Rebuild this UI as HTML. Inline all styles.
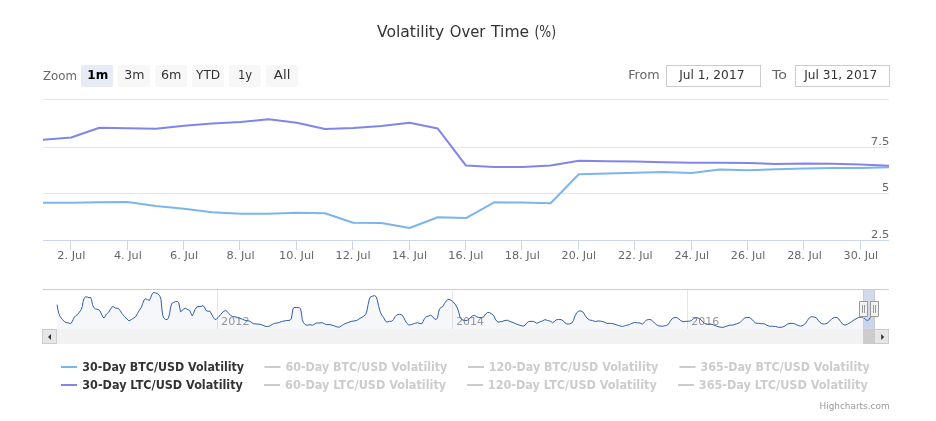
<!DOCTYPE html>
<html><head><meta charset="utf-8"><title>Volatility Over Time (%)</title>
<style>
html,body{margin:0;padding:0;background:#fff;}
body{width:936px;height:421px;overflow:hidden;position:relative;font-family:"DejaVu Sans","Liberation Sans",sans-serif;}
svg{position:absolute;left:0;top:0;display:block;}
svg text{font-family:"DejaVu Sans","Liberation Sans",sans-serif;white-space:pre;}
</style></head><body>
<svg width="936" height="421" viewBox="0 0 936 421">
<rect x="0" y="0" width="936" height="421" fill="#ffffff"/>

<path d="M43 99.5 L889 99.5" stroke="#e6e6e6" stroke-width="1" fill="none"/>
<path d="M43 147.5 L889 147.5" stroke="#e6e6e6" stroke-width="1" fill="none"/>
<path d="M43 193.5 L889 193.5" stroke="#e6e6e6" stroke-width="1" fill="none"/>
<path d="M43 240.5 L889 240.5" stroke="#ccd6eb" stroke-width="1" fill="none"/>
<path d="M70.5 240.5 L70.5 250" stroke="#ccd6eb" stroke-width="1" fill="none"/>
<path d="M127.5 240.5 L127.5 250" stroke="#ccd6eb" stroke-width="1" fill="none"/>
<path d="M183.5 240.5 L183.5 250" stroke="#ccd6eb" stroke-width="1" fill="none"/>
<path d="M239.5 240.5 L239.5 250" stroke="#ccd6eb" stroke-width="1" fill="none"/>
<path d="M296.5 240.5 L296.5 250" stroke="#ccd6eb" stroke-width="1" fill="none"/>
<path d="M352.5 240.5 L352.5 250" stroke="#ccd6eb" stroke-width="1" fill="none"/>
<path d="M409.5 240.5 L409.5 250" stroke="#ccd6eb" stroke-width="1" fill="none"/>
<path d="M465.5 240.5 L465.5 250" stroke="#ccd6eb" stroke-width="1" fill="none"/>
<path d="M521.5 240.5 L521.5 250" stroke="#ccd6eb" stroke-width="1" fill="none"/>
<path d="M578.5 240.5 L578.5 250" stroke="#ccd6eb" stroke-width="1" fill="none"/>
<path d="M634.5 240.5 L634.5 250" stroke="#ccd6eb" stroke-width="1" fill="none"/>
<path d="M691.5 240.5 L691.5 250" stroke="#ccd6eb" stroke-width="1" fill="none"/>
<path d="M747.5 240.5 L747.5 250" stroke="#ccd6eb" stroke-width="1" fill="none"/>
<path d="M803.5 240.5 L803.5 250" stroke="#ccd6eb" stroke-width="1" fill="none"/>
<path d="M860.5 240.5 L860.5 250" stroke="#ccd6eb" stroke-width="1" fill="none"/>
<clipPath id="cp"><rect x="43" y="90" width="846" height="160"/></clipPath><g clip-path="url(#cp)">
<path d="M43.00 202.80 L71.20 202.80 L99.40 202.30 L127.60 202.05 L155.80 206.05 L184.00 208.80 L212.20 212.30 L240.40 213.80 L268.60 213.80 L296.80 212.80 L325.00 213.30 L353.20 222.80 L381.40 223.05 L409.60 228.05 L437.80 217.30 L466.00 218.05 L494.20 202.30 L522.40 202.55 L550.60 203.30 L578.80 174.30 L607.00 173.55 L635.20 172.80 L663.40 172.05 L691.60 173.05 L719.80 169.55 L748.00 170.30 L776.20 169.30 L804.40 168.55 L832.60 168.05 L860.80 168.05 L889.00 167.30" stroke="#7cb5ec" stroke-width="2" fill="none" stroke-linejoin="round" stroke-linecap="round"/>
<path d="M43.00 139.80 L71.20 137.50 L99.40 127.70 L127.60 128.30 L155.80 128.80 L184.00 125.80 L212.20 123.55 L240.40 122.05 L268.60 119.30 L296.80 122.80 L325.00 129.05 L353.20 128.05 L381.40 126.05 L409.60 122.80 L437.80 128.60 L466.00 165.55 L494.20 167.05 L522.40 167.05 L550.60 165.55 L578.80 160.80 L607.00 161.30 L635.20 161.55 L663.40 162.30 L691.60 162.80 L719.80 162.80 L748.00 163.05 L776.20 164.05 L804.40 163.55 L832.60 163.80 L860.80 164.55 L889.00 165.80" stroke="#8085e9" stroke-width="2" fill="none" stroke-linejoin="round" stroke-linecap="round"/>
</g>
<rect x="81" y="65" width="32" height="22" rx="2" ry="2" fill="#e6ebf5"/>
<rect x="118" y="65" width="32" height="22" rx="2" ry="2" fill="#f7f7f7"/>
<rect x="155" y="65" width="32" height="22" rx="2" ry="2" fill="#f7f7f7"/>
<rect x="192" y="65" width="32" height="22" rx="2" ry="2" fill="#f7f7f7"/>
<rect x="229" y="65" width="32" height="22" rx="2" ry="2" fill="#f7f7f7"/>
<rect x="266" y="65" width="32" height="22" rx="2" ry="2" fill="#f7f7f7"/>
<rect x="666.5" y="65.5" width="94" height="21" fill="none" stroke="#cccccc" stroke-width="1"/>
<rect x="795.5" y="65.5" width="94" height="21" fill="none" stroke="#cccccc" stroke-width="1"/>
<path d="M217.5 289.5 L217.5 329" stroke="#e6e6e6" stroke-width="1" fill="none"/>
<path d="M452.5 289.5 L452.5 329" stroke="#e6e6e6" stroke-width="1" fill="none"/>
<path d="M687.5 289.5 L687.5 329" stroke="#e6e6e6" stroke-width="1" fill="none"/>
<text x="221.14" y="324.5" font-size="11" fill="#999999" textLength="28.37" lengthAdjust="spacingAndGlyphs">2012</text>
<text x="456.15" y="324.5" font-size="11" fill="#999999" textLength="27.84" lengthAdjust="spacingAndGlyphs">2014</text>
<text x="691.15" y="324.5" font-size="11" fill="#999999" textLength="28.11" lengthAdjust="spacingAndGlyphs">2016</text>
<path d="M57.12 304.62 L57.75 309.0 L58.75 313.38 L60.25 316.75 L62.5 319.62 L65.0 322.12 L66.88 322.75 L68.75 323.0 L70.62 323.75 L71.88 322.12 L73.12 319.62 L74.38 317.12 L75.62 315.88 L77.5 314.62 L79.38 312.12 L81.25 309.62 L82.25 306.5 L83.12 301.5 L84.0 298.38 L85.62 296.88 L87.5 297.12 L89.0 297.75 L90.62 297.38 L91.5 299.62 L92.5 304.62 L93.75 307.5 L95.62 309.0 L98.12 309.38 L100.0 310.88 L101.5 314.0 L102.75 316.75 L104.0 318.0 L105.25 316.25 L106.5 314.0 L108.75 312.12 L110.62 309.0 L112.5 306.5 L113.75 306.88 L115.25 308.12 L118.12 308.38 L120.0 310.25 L121.88 313.38 L124.38 316.25 L126.88 319.0 L129.0 320.88 L131.25 319.62 L133.75 318.0 L135.62 316.75 L137.5 313.38 L139.38 310.25 L141.25 307.5 L142.75 303.38 L144.0 300.0 L145.62 298.75 L147.5 299.62 L149.38 300.5 L150.62 297.75 L152.25 293.75 L153.75 292.38 L155.62 293.0 L157.75 293.75 L159.38 295.25 L160.0 296.5 L161.0 299.62 L161.88 309.0 L162.75 315.25 L163.75 318.0 L165.62 319.62 L167.5 319.38 L168.75 317.12 L169.75 312.75 L170.62 307.12 L171.88 303.38 L173.75 302.38 L175.62 301.5 L177.5 301.5 L178.75 302.75 L179.62 307.12 L180.62 311.75 L181.88 310.88 L183.75 308.75 L185.62 308.38 L187.75 309.62 L189.75 310.5 L191.0 313.38 L192.25 315.88 L193.5 313.38 L195.0 309.62 L196.88 306.88 L199.0 306.5 L201.25 306.5 L203.12 305.5 L204.38 307.12 L206.0 310.5 L208.12 311.25 L210.0 311.25 L211.5 314.0 L213.12 317.12 L215.0 319.62 L216.5 319.0 L218.12 317.5 L220.62 314.62 L223.12 311.75 L225.25 310.5 L226.88 311.25 L228.75 313.38 L230.62 315.5 L232.5 316.5 L235.0 316.75 L237.5 317.5 L240.0 318.38 L242.5 319.25 L245.0 320.25 L247.5 320.62 L250.0 321.25 L251.88 322.75 L253.75 323.75 L256.88 324.0 L260.0 324.25 L262.5 325.0 L265.0 326.25 L267.5 326.5 L270.0 325.88 L272.5 324.25 L274.38 323.38 L277.0 323.12 L279.38 322.38 L282.5 321.25 L286.25 320.62 L290.0 320.25 L291.25 319.0 L292.12 314.0 L292.88 309.0 L294.0 307.5 L296.25 307.5 L299.38 307.75 L300.62 308.75 L301.5 314.0 L302.25 319.62 L303.5 322.75 L305.0 324.38 L306.88 325.25 L310.0 324.75 L312.5 325.25 L314.38 324.25 L316.0 323.0 L318.75 323.0 L322.5 322.75 L324.38 323.75 L326.25 324.62 L330.0 324.62 L333.75 325.62 L336.88 326.88 L339.38 327.12 L341.25 325.88 L343.75 324.25 L347.5 322.75 L351.25 321.25 L355.0 320.88 L357.5 320.0 L360.0 318.38 L363.12 316.5 L365.62 314.62 L366.88 310.88 L368.12 304.62 L369.38 299.0 L370.62 296.75 L372.5 296.12 L374.75 295.62 L376.25 296.88 L377.5 300.88 L378.75 306.5 L380.25 312.12 L381.88 315.25 L383.75 317.75 L385.25 320.88 L387.0 322.12 L389.38 321.25 L391.88 321.25 L393.5 319.62 L395.0 316.75 L396.88 314.88 L399.38 314.25 L401.88 314.88 L403.5 317.12 L405.0 320.25 L406.88 323.38 L408.75 325.0 L411.25 324.62 L414.38 323.38 L417.5 322.75 L420.0 323.5 L421.88 323.75 L423.12 321.5 L424.38 318.75 L426.0 316.75 L428.12 316.25 L430.62 315.0 L432.5 316.5 L434.38 318.75 L436.0 319.62 L437.5 317.75 L438.5 312.75 L439.38 309.0 L441.0 307.5 L442.5 306.75 L444.38 303.75 L446.25 300.88 L448.12 299.38 L450.0 299.62 L452.5 301.25 L455.0 304.0 L457.25 307.75 L458.75 312.12 L460.0 317.12 L461.88 319.62 L464.38 320.62 L467.5 320.25 L470.0 318.0 L472.5 315.88 L474.38 315.25 L476.25 316.5 L478.75 317.5 L481.25 317.75 L483.75 316.75 L485.62 314.0 L487.5 312.5 L489.38 312.5 L491.88 314.0 L494.0 315.88 L495.25 319.0 L497.0 321.5 L498.75 322.12 L501.88 321.5 L505.0 320.5 L507.5 320.25 L510.0 321.5 L513.12 322.5 L516.25 324.0 L520.0 325.25 L523.12 326.12 L525.0 325.25 L526.88 322.75 L528.75 321.5 L531.88 321.25 L534.38 321.75 L536.88 323.38 L539.38 322.12 L542.5 320.88 L545.0 319.62 L547.5 320.5 L550.62 321.25 L552.5 322.75 L554.38 321.5 L556.25 319.88 L558.5 319.38 L561.25 319.62 L563.12 320.88 L565.0 322.75 L566.88 324.0 L569.38 324.0 L571.88 323.0 L573.5 320.25 L575.0 315.88 L576.88 312.5 L578.75 311.12 L581.0 310.88 L583.12 312.12 L585.0 315.25 L586.88 318.0 L589.38 319.88 L592.5 320.62 L595.62 321.5 L598.12 320.88 L601.25 321.25 L604.38 322.12 L607.0 323.38 L611.25 323.38 L615.0 324.25 L618.75 325.62 L622.5 326.5 L625.62 325.5 L629.38 324.62 L631.88 323.38 L634.38 322.5 L637.5 322.75 L640.0 323.0 L642.5 324.25 L644.38 322.12 L646.25 320.25 L648.75 319.38 L651.25 319.88 L653.75 322.12 L656.25 324.62 L658.75 325.88 L662.5 326.25 L665.62 325.62 L668.12 324.62 L670.0 321.5 L671.88 319.0 L673.75 317.75 L676.25 317.38 L678.12 318.38 L680.62 320.5 L683.12 321.75 L686.25 321.25 L689.38 321.25 L691.88 320.25 L693.75 318.38 L696.25 317.5 L699.38 318.38 L701.88 320.88 L704.38 323.38 L707.5 324.25 L710.62 324.0 L713.75 325.0 L717.0 326.25 L720.0 327.12 L723.12 327.38 L726.25 326.25 L729.38 325.25 L733.12 325.0 L736.25 324.0 L740.0 322.5 L742.25 320.25 L744.38 318.12 L746.88 317.5 L749.38 317.5 L751.88 319.25 L753.75 321.5 L755.62 323.12 L758.75 323.38 L761.88 323.75 L764.38 323.75 L766.88 325.25 L769.38 326.25 L772.5 326.25 L775.62 326.5 L778.75 327.38 L782.5 327.12 L785.0 325.88 L787.5 324.0 L790.0 323.38 L793.12 323.38 L795.62 324.25 L798.12 325.5 L800.62 326.12 L803.12 325.25 L805.62 323.38 L807.5 320.25 L809.38 317.75 L811.25 316.75 L813.75 316.88 L816.25 317.75 L818.12 320.25 L820.0 322.5 L821.88 323.75 L824.38 324.0 L827.0 323.38 L829.38 321.25 L831.88 318.75 L834.38 317.5 L836.88 317.5 L838.75 319.0 L840.62 321.5 L842.5 324.0 L845.0 325.25 L847.5 324.25 L851.25 321.88 L855.0 319.38 L858.75 317.38 L861.88 317.12 L863.75 317.75 L865.62 319.62 L867.5 320.62 L868.75 320.0 L870.0 317.75 L871.0 316.75 L875.0 315.25 L875.0 329 L57.12 329 Z" fill="#335cad" fill-opacity="0.05" stroke="none"/>
<path d="M57.12 304.62 L57.75 309.0 L58.75 313.38 L60.25 316.75 L62.5 319.62 L65.0 322.12 L66.88 322.75 L68.75 323.0 L70.62 323.75 L71.88 322.12 L73.12 319.62 L74.38 317.12 L75.62 315.88 L77.5 314.62 L79.38 312.12 L81.25 309.62 L82.25 306.5 L83.12 301.5 L84.0 298.38 L85.62 296.88 L87.5 297.12 L89.0 297.75 L90.62 297.38 L91.5 299.62 L92.5 304.62 L93.75 307.5 L95.62 309.0 L98.12 309.38 L100.0 310.88 L101.5 314.0 L102.75 316.75 L104.0 318.0 L105.25 316.25 L106.5 314.0 L108.75 312.12 L110.62 309.0 L112.5 306.5 L113.75 306.88 L115.25 308.12 L118.12 308.38 L120.0 310.25 L121.88 313.38 L124.38 316.25 L126.88 319.0 L129.0 320.88 L131.25 319.62 L133.75 318.0 L135.62 316.75 L137.5 313.38 L139.38 310.25 L141.25 307.5 L142.75 303.38 L144.0 300.0 L145.62 298.75 L147.5 299.62 L149.38 300.5 L150.62 297.75 L152.25 293.75 L153.75 292.38 L155.62 293.0 L157.75 293.75 L159.38 295.25 L160.0 296.5 L161.0 299.62 L161.88 309.0 L162.75 315.25 L163.75 318.0 L165.62 319.62 L167.5 319.38 L168.75 317.12 L169.75 312.75 L170.62 307.12 L171.88 303.38 L173.75 302.38 L175.62 301.5 L177.5 301.5 L178.75 302.75 L179.62 307.12 L180.62 311.75 L181.88 310.88 L183.75 308.75 L185.62 308.38 L187.75 309.62 L189.75 310.5 L191.0 313.38 L192.25 315.88 L193.5 313.38 L195.0 309.62 L196.88 306.88 L199.0 306.5 L201.25 306.5 L203.12 305.5 L204.38 307.12 L206.0 310.5 L208.12 311.25 L210.0 311.25 L211.5 314.0 L213.12 317.12 L215.0 319.62 L216.5 319.0 L218.12 317.5 L220.62 314.62 L223.12 311.75 L225.25 310.5 L226.88 311.25 L228.75 313.38 L230.62 315.5 L232.5 316.5 L235.0 316.75 L237.5 317.5 L240.0 318.38 L242.5 319.25 L245.0 320.25 L247.5 320.62 L250.0 321.25 L251.88 322.75 L253.75 323.75 L256.88 324.0 L260.0 324.25 L262.5 325.0 L265.0 326.25 L267.5 326.5 L270.0 325.88 L272.5 324.25 L274.38 323.38 L277.0 323.12 L279.38 322.38 L282.5 321.25 L286.25 320.62 L290.0 320.25 L291.25 319.0 L292.12 314.0 L292.88 309.0 L294.0 307.5 L296.25 307.5 L299.38 307.75 L300.62 308.75 L301.5 314.0 L302.25 319.62 L303.5 322.75 L305.0 324.38 L306.88 325.25 L310.0 324.75 L312.5 325.25 L314.38 324.25 L316.0 323.0 L318.75 323.0 L322.5 322.75 L324.38 323.75 L326.25 324.62 L330.0 324.62 L333.75 325.62 L336.88 326.88 L339.38 327.12 L341.25 325.88 L343.75 324.25 L347.5 322.75 L351.25 321.25 L355.0 320.88 L357.5 320.0 L360.0 318.38 L363.12 316.5 L365.62 314.62 L366.88 310.88 L368.12 304.62 L369.38 299.0 L370.62 296.75 L372.5 296.12 L374.75 295.62 L376.25 296.88 L377.5 300.88 L378.75 306.5 L380.25 312.12 L381.88 315.25 L383.75 317.75 L385.25 320.88 L387.0 322.12 L389.38 321.25 L391.88 321.25 L393.5 319.62 L395.0 316.75 L396.88 314.88 L399.38 314.25 L401.88 314.88 L403.5 317.12 L405.0 320.25 L406.88 323.38 L408.75 325.0 L411.25 324.62 L414.38 323.38 L417.5 322.75 L420.0 323.5 L421.88 323.75 L423.12 321.5 L424.38 318.75 L426.0 316.75 L428.12 316.25 L430.62 315.0 L432.5 316.5 L434.38 318.75 L436.0 319.62 L437.5 317.75 L438.5 312.75 L439.38 309.0 L441.0 307.5 L442.5 306.75 L444.38 303.75 L446.25 300.88 L448.12 299.38 L450.0 299.62 L452.5 301.25 L455.0 304.0 L457.25 307.75 L458.75 312.12 L460.0 317.12 L461.88 319.62 L464.38 320.62 L467.5 320.25 L470.0 318.0 L472.5 315.88 L474.38 315.25 L476.25 316.5 L478.75 317.5 L481.25 317.75 L483.75 316.75 L485.62 314.0 L487.5 312.5 L489.38 312.5 L491.88 314.0 L494.0 315.88 L495.25 319.0 L497.0 321.5 L498.75 322.12 L501.88 321.5 L505.0 320.5 L507.5 320.25 L510.0 321.5 L513.12 322.5 L516.25 324.0 L520.0 325.25 L523.12 326.12 L525.0 325.25 L526.88 322.75 L528.75 321.5 L531.88 321.25 L534.38 321.75 L536.88 323.38 L539.38 322.12 L542.5 320.88 L545.0 319.62 L547.5 320.5 L550.62 321.25 L552.5 322.75 L554.38 321.5 L556.25 319.88 L558.5 319.38 L561.25 319.62 L563.12 320.88 L565.0 322.75 L566.88 324.0 L569.38 324.0 L571.88 323.0 L573.5 320.25 L575.0 315.88 L576.88 312.5 L578.75 311.12 L581.0 310.88 L583.12 312.12 L585.0 315.25 L586.88 318.0 L589.38 319.88 L592.5 320.62 L595.62 321.5 L598.12 320.88 L601.25 321.25 L604.38 322.12 L607.0 323.38 L611.25 323.38 L615.0 324.25 L618.75 325.62 L622.5 326.5 L625.62 325.5 L629.38 324.62 L631.88 323.38 L634.38 322.5 L637.5 322.75 L640.0 323.0 L642.5 324.25 L644.38 322.12 L646.25 320.25 L648.75 319.38 L651.25 319.88 L653.75 322.12 L656.25 324.62 L658.75 325.88 L662.5 326.25 L665.62 325.62 L668.12 324.62 L670.0 321.5 L671.88 319.0 L673.75 317.75 L676.25 317.38 L678.12 318.38 L680.62 320.5 L683.12 321.75 L686.25 321.25 L689.38 321.25 L691.88 320.25 L693.75 318.38 L696.25 317.5 L699.38 318.38 L701.88 320.88 L704.38 323.38 L707.5 324.25 L710.62 324.0 L713.75 325.0 L717.0 326.25 L720.0 327.12 L723.12 327.38 L726.25 326.25 L729.38 325.25 L733.12 325.0 L736.25 324.0 L740.0 322.5 L742.25 320.25 L744.38 318.12 L746.88 317.5 L749.38 317.5 L751.88 319.25 L753.75 321.5 L755.62 323.12 L758.75 323.38 L761.88 323.75 L764.38 323.75 L766.88 325.25 L769.38 326.25 L772.5 326.25 L775.62 326.5 L778.75 327.38 L782.5 327.12 L785.0 325.88 L787.5 324.0 L790.0 323.38 L793.12 323.38 L795.62 324.25 L798.12 325.5 L800.62 326.12 L803.12 325.25 L805.62 323.38 L807.5 320.25 L809.38 317.75 L811.25 316.75 L813.75 316.88 L816.25 317.75 L818.12 320.25 L820.0 322.5 L821.88 323.75 L824.38 324.0 L827.0 323.38 L829.38 321.25 L831.88 318.75 L834.38 317.5 L836.88 317.5 L838.75 319.0 L840.62 321.5 L842.5 324.0 L845.0 325.25 L847.5 324.25 L851.25 321.88 L855.0 319.38 L858.75 317.38 L861.88 317.12 L863.75 317.75 L865.62 319.62 L867.5 320.62 L868.75 320.0 L870.0 317.75 L871.0 316.75 L875.0 315.25" fill="none" stroke="#335cad" stroke-width="1" stroke-linejoin="round"/>
<rect x="864" y="290" width="10.5" height="39" fill="#6685c2" fill-opacity="0.3"/>
<rect x="42.5" y="329.5" width="846" height="14" fill="#f2f2f2" stroke="#f2f2f2" stroke-width="1"/>
<rect x="863.5" y="329.5" width="11" height="14" fill="#cccccc" stroke="#cccccc" stroke-width="1"/>
<rect x="42.5" y="329.5" width="14" height="14" fill="#e6e6e6" stroke="#cccccc" stroke-width="1"/>
<path d="M51 334 L51 340 L48 337 Z" fill="#333333"/>
<rect x="874.5" y="329.5" width="14" height="14" fill="#e6e6e6" stroke="#cccccc" stroke-width="1"/>
<path d="M881.2 334 L881.2 340 L884.2 337 Z" fill="#333333"/>
<path d="M43 289.5 L889 289.5 M863.5 289.5 L863.5 329.5 M874.5 329.5 L874.5 289.5" fill="none" stroke="#cccccc" stroke-width="1"/>
<path d="M859.5 301.5 L867.5 301.5 L867.5 316.5 L859.5 316.5 Z" fill="#f2f2f2" stroke="#999999" stroke-width="1"/>
<path d="M862.5 305 L862.5 313 M864.5 305 L864.5 313" fill="none" stroke="#999999" stroke-width="1"/>
<path d="M870.5 301.5 L878.5 301.5 L878.5 316.5 L870.5 316.5 Z" fill="#f2f2f2" stroke="#999999" stroke-width="1"/>
<path d="M873.5 305 L873.5 313 M875.5 305 L875.5 313" fill="none" stroke="#999999" stroke-width="1"/>
<path d="M61 367 L77 367" stroke="#7cb5ec" stroke-width="2" fill="none"/>
<path d="M264.5 367 L280.5 367" stroke="#cccccc" stroke-width="2" fill="none"/>
<path d="M468 367 L484 367" stroke="#cccccc" stroke-width="2" fill="none"/>
<path d="M679.5 367 L695.5 367" stroke="#cccccc" stroke-width="2" fill="none"/>
<path d="M61 385 L77 385" stroke="#8085e9" stroke-width="2" fill="none"/>
<path d="M264 385 L280 385" stroke="#cccccc" stroke-width="2" fill="none"/>
<path d="M467 385 L483 385" stroke="#cccccc" stroke-width="2" fill="none"/>
<path d="M678 385 L694 385" stroke="#cccccc" stroke-width="2" fill="none"/>
<text y="36.5" font-size="16" fill="#333333"><tspan x="376.96" textLength="67.22" lengthAdjust="spacingAndGlyphs">Volatility</tspan> <tspan x="449.77" textLength="35.71" lengthAdjust="spacingAndGlyphs">Over</tspan> <tspan x="491.10" textLength="38.08" lengthAdjust="spacingAndGlyphs">Time</tspan> <tspan x="534.42" textLength="21.70" lengthAdjust="spacingAndGlyphs">(%)</tspan></text>
<text x="42.91" y="80" font-size="12" fill="#666666" textLength="33.96" lengthAdjust="spacingAndGlyphs">Zoom</text>
<text x="87.35" y="79" font-size="12" font-weight="bold" fill="#000000" textLength="20.92" lengthAdjust="spacingAndGlyphs">1m</text>
<text x="124.21" y="79" font-size="12" fill="#333333" textLength="20.17" lengthAdjust="spacingAndGlyphs">3m</text>
<text x="160.96" y="79" font-size="12" fill="#333333" textLength="20.43" lengthAdjust="spacingAndGlyphs">6m</text>
<text x="196.00" y="79" font-size="12" fill="#333333" textLength="24.16" lengthAdjust="spacingAndGlyphs">YTD</text>
<text x="237.90" y="79" font-size="12" fill="#333333" textLength="14.18" lengthAdjust="spacingAndGlyphs">1y</text>
<text x="273.82" y="79" font-size="12" fill="#333333" textLength="16.55" lengthAdjust="spacingAndGlyphs">All</text>
<text x="628.17" y="79" font-size="12" fill="#666666" textLength="31.57" lengthAdjust="spacingAndGlyphs">From</text>
<text x="679.21" y="79" font-size="12" fill="#333333" textLength="65.22" lengthAdjust="spacingAndGlyphs">Jul 1, 2017</text>
<text x="772.00" y="79" font-size="12" fill="#666666" textLength="15.06" lengthAdjust="spacingAndGlyphs">To</text>
<text x="804.21" y="79" font-size="12" fill="#333333" textLength="72.99" lengthAdjust="spacingAndGlyphs">Jul 31, 2017</text>
<text x="57.28" y="259" font-size="11" fill="#666666" textLength="28.12" lengthAdjust="spacingAndGlyphs">2. Jul</text>
<text x="113.94" y="259" font-size="11" fill="#666666" textLength="27.85" lengthAdjust="spacingAndGlyphs">4. Jul</text>
<text x="170.08" y="259" font-size="11" fill="#666666" textLength="28.12" lengthAdjust="spacingAndGlyphs">6. Jul</text>
<text x="226.48" y="259" font-size="11" fill="#666666" textLength="28.12" lengthAdjust="spacingAndGlyphs">8. Jul</text>
<text x="279.12" y="259" font-size="11" fill="#666666" textLength="35.12" lengthAdjust="spacingAndGlyphs">10. Jul</text>
<text x="335.52" y="259" font-size="11" fill="#666666" textLength="35.12" lengthAdjust="spacingAndGlyphs">12. Jul</text>
<text x="391.92" y="259" font-size="11" fill="#666666" textLength="35.12" lengthAdjust="spacingAndGlyphs">14. Jul</text>
<text x="448.32" y="259" font-size="11" fill="#666666" textLength="35.12" lengthAdjust="spacingAndGlyphs">16. Jul</text>
<text x="504.72" y="259" font-size="11" fill="#666666" textLength="35.12" lengthAdjust="spacingAndGlyphs">18. Jul</text>
<text x="561.64" y="259" font-size="11" fill="#666666" textLength="34.58" lengthAdjust="spacingAndGlyphs">20. Jul</text>
<text x="618.04" y="259" font-size="11" fill="#666666" textLength="34.58" lengthAdjust="spacingAndGlyphs">22. Jul</text>
<text x="674.44" y="259" font-size="11" fill="#666666" textLength="34.58" lengthAdjust="spacingAndGlyphs">24. Jul</text>
<text x="730.84" y="259" font-size="11" fill="#666666" textLength="34.58" lengthAdjust="spacingAndGlyphs">26. Jul</text>
<text x="787.24" y="259" font-size="11" fill="#666666" textLength="34.58" lengthAdjust="spacingAndGlyphs">28. Jul</text>
<text x="843.64" y="259" font-size="11" fill="#666666" textLength="34.58" lengthAdjust="spacingAndGlyphs">30. Jul</text>
<text x="870.84" y="145" font-size="11" fill="#666666" textLength="18.52" lengthAdjust="spacingAndGlyphs">7.5</text>
<text x="882.13" y="191" font-size="11" fill="#666666" textLength="7.20" lengthAdjust="spacingAndGlyphs">5</text>
<text x="871.12" y="238" font-size="11" fill="#666666" textLength="18.22" lengthAdjust="spacingAndGlyphs">2.5</text>
<text x="82.31" y="370.7" font-size="12" font-weight="bold" fill="#333333" textLength="161.80" lengthAdjust="spacingAndGlyphs">30-Day BTC/USD Volatility</text>
<text x="285.56" y="370.7" font-size="12" font-weight="bold" fill="#cccccc" textLength="161.80" lengthAdjust="spacingAndGlyphs">60-Day BTC/USD Volatility</text>
<text x="488.85" y="370.7" font-size="12" font-weight="bold" fill="#cccccc" textLength="169.38" lengthAdjust="spacingAndGlyphs">120-Day BTC/USD Volatility</text>
<text x="700.56" y="370.7" font-size="12" font-weight="bold" fill="#cccccc" textLength="169.17" lengthAdjust="spacingAndGlyphs">365-Day BTC/USD Volatility</text>
<text x="82.30" y="388.7" font-size="12" font-weight="bold" fill="#333333" textLength="160.58" lengthAdjust="spacingAndGlyphs">30-Day LTC/USD Volatility</text>
<text x="285.05" y="388.7" font-size="12" font-weight="bold" fill="#cccccc" textLength="161.09" lengthAdjust="spacingAndGlyphs">60-Day LTC/USD Volatility</text>
<text x="487.83" y="388.7" font-size="12" font-weight="bold" fill="#cccccc" textLength="168.91" lengthAdjust="spacingAndGlyphs">120-Day LTC/USD Volatility</text>
<text x="698.80" y="388.7" font-size="12" font-weight="bold" fill="#cccccc" textLength="168.94" lengthAdjust="spacingAndGlyphs">365-Day LTC/USD Volatility</text>
<text x="819.51" y="409.2" font-size="9" fill="#999999" textLength="70.09" lengthAdjust="spacingAndGlyphs">Highcharts.com</text>
</svg></body></html>
